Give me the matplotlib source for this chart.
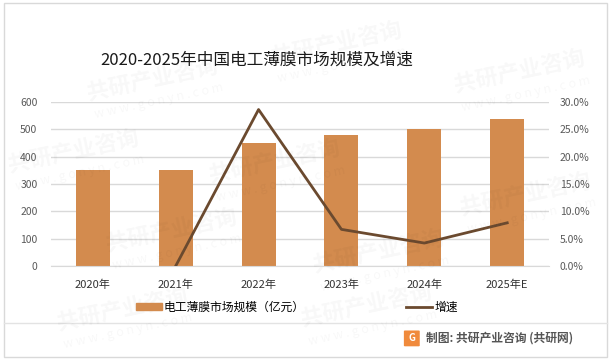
import numpy as np
import matplotlib.pyplot as plt
from matplotlib.patches import Rectangle, FancyBboxPatch
from matplotlib.lines import Line2D

# ----------------------------
# Data
# ----------------------------
years = ["2020年", "2021年", "2022年", "2023年", "2024年", "2025年E"]
market_size = [350, 350, 450, 480, 500, 538]        # 亿元
growth = [np.nan, 0.0, 28.6, 6.7, 4.2, 7.9]          # %

# ----------------------------
# Style
# ----------------------------
plt.rcParams["font.family"] = ["Noto Sans CJK SC", "DejaVu Sans"]

bar_color = "#D38B4E"
line_color = "#6B4A2F"
grid_color = "#D9D9D9"
tick_color = "#595959"

fig = plt.figure(figsize=(6.11, 3.6), dpi=100)

# outer frame and footer divider
fig.add_artist(Rectangle((0.006, 0.008), 0.988, 0.984, transform=fig.transFigure,
                         fill=False, edgecolor="#D9D9D9", linewidth=1.0))
fig.add_artist(Line2D([0.006, 0.994], [0.103, 0.103], transform=fig.transFigure,
                      color="#E3E3E3", linewidth=1.0))

# faint watermarks
for (wx, wy) in [(0.25, 0.78), (0.55, 0.88), (0.12, 0.58), (0.45, 0.55),
                 (0.85, 0.80), (0.28, 0.36), (0.62, 0.30), (0.86, 0.46), (0.20, 0.14), (0.60, 0.15)]:
    fig.text(wx, wy, "共研产业咨询", fontsize=16, fontweight="bold", color="#000000",
             alpha=0.03, rotation=12, ha="center", va="center")
    fig.text(wx + 0.01, wy - 0.06, "w w w . g o n y n . c o m", fontsize=9, color="#000000",
             alpha=0.03, rotation=12, ha="center", va="center")

fig.text(0.42, 0.833, "2020-2025年中国电工薄膜市场规模及增速", fontsize=12,
         ha="center", va="center", color="#1a1a1a")

ax = fig.add_axes([0.084, 0.261, 0.814, 0.456])
ax2 = ax.twinx()

x = np.arange(len(years))
ax.bar(x, market_size, width=0.41, color=bar_color, zorder=2)
ax2.plot(x, growth, color=line_color, linewidth=2.0, zorder=3)

ax.set_xlim(-0.5, len(years) - 0.5)
ax.set_ylim(0, 600)
ax.set_yticks(range(0, 601, 100))
ax2.set_ylim(0, 30)
ax2.set_yticks(range(0, 31, 5))
ax2.set_yticklabels([f"{v:.1f}%" for v in range(0, 31, 5)])

ax.grid(axis="y", color=grid_color, linewidth=1.0, zorder=0)
ax.set_axisbelow(True)
for a in (ax, ax2):
    for s in a.spines.values():
        s.set_visible(False)
ax.spines["bottom"].set_visible(True)
ax.spines["bottom"].set_color(grid_color)

ax.set_xticks(x, years)
ax.tick_params(axis="x", length=0, labelsize=8, pad=10, labelcolor="#333333")
ax.tick_params(axis="y", length=0, labelsize=7.5, pad=10, labelcolor=tick_color)
ax2.tick_params(axis="y", length=0, labelsize=7.5, pad=8, labelcolor=tick_color)

# legend
handles = [Rectangle((0, 0), 1, 1, color=bar_color),
           Line2D([0], [0], color=line_color, linewidth=2.0)]
fig.legend(handles, ["电工薄膜市场规模（亿元）", "增速"], loc="center",
           bbox_to_anchor=(0.486, 0.147), ncol=2, frameon=False, fontsize=8.5,
           handlelength=2.2, handleheight=0.5, columnspacing=8.6, handletextpad=0.2)

# footer
fig.add_artist(FancyBboxPatch((0.663, 0.04), 0.022, 0.04, boxstyle="round,pad=0.002",
                              transform=fig.transFigure, facecolor="#F08A3C",
                              edgecolor="none"))
fig.text(0.674, 0.06, "G", fontsize=7, fontweight="bold", color="white",
         ha="center", va="center")
fig.text(0.697, 0.06, "制图: 共研产业咨询 (共研网)", fontsize=8.5, fontweight="bold",
         color="#555555", ha="left", va="center")

fig.savefig("out.png", dpi=100)
